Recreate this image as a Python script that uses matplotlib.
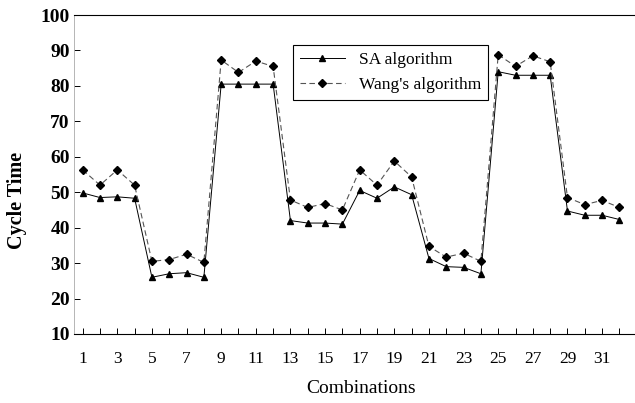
import matplotlib
matplotlib.use("Agg")
import matplotlib.pyplot as plt
import numpy as np

combinations = list(range(1, 33))
sa_values = [49.8, 48.5, 48.7, 48.3, 26.0, 27.0, 27.3, 26.0,
             80.5, 80.5, 80.5, 80.5, 42.0, 41.3, 41.3, 41.0,
             50.5, 48.3, 51.5, 49.3, 31.3, 29.0, 28.8, 27.0,
             84.0, 83.0, 83.0, 83.0, 44.7, 43.5, 43.5, 42.3]
wang_values = [56.3, 52.0, 56.3, 52.0, 30.5, 31.0, 32.5, 30.2,
               87.3, 83.8, 87.0, 85.5, 47.8, 45.7, 46.8, 45.0,
               56.3, 52.0, 58.8, 54.3, 34.7, 31.7, 32.8, 30.5,
               88.8, 85.5, 88.5, 86.8, 48.5, 46.5, 47.7, 45.7]
xtick_labels = [str(i) for i in range(1, 33, 2)]
yticks = list(range(10, 101, 10))

plt.rcParams['font.family'] = ['Liberation Serif', 'DejaVu Serif']

fig = plt.figure(figsize=(6.35, 4.03), dpi=100)
ax = fig.add_axes([74/635, 1-334/403, 1-74/635, (334-15)/403])

ax.plot(combinations, sa_values, color='black', lw=0.7, ls='-',
        marker='^', ms=5, mfc='black', mec='black', label='SA algorithm')
ax.plot(combinations, wang_values, color='#555555', lw=0.8, ls=(0, (5, 3)),
        marker='D', ms=4, mfc='black', mec='black', label="Wang's algorithm")

ax.set_xlim(0.5, 32.9)
ax.set_ylim(10, 100)
ax.set_yticks(yticks)
ax.set_yticklabels([str(v) for v in yticks], fontsize=14, fontweight='bold')
ax.set_xticks(list(range(1, 33, 2)))
ax.set_xticklabels(xtick_labels, fontsize=12.5)
ax.set_xticks(combinations, minor=True)
ax.tick_params(axis='x', which='both', direction='in', length=4, width=0.7, pad=12)
ax.tick_params(axis='y', direction='in', length=4, width=0.7, pad=3)

ax.spines['right'].set_visible(False)
ax.spines['left'].set_color('#aaaaaa')
ax.spines['left'].set_linewidth(0.6)
ax.spines['top'].set_linewidth(0.8)
ax.spines['bottom'].set_linewidth(0.8)

ax.set_ylabel('Cycle Time', fontsize=14.5, fontweight='bold')
ax.yaxis.set_label_coords(-0.084, 0.42)
ax.set_xlabel('Combinations', fontsize=14)
ax.xaxis.set_label_coords(0.512, -0.145)

leg = ax.legend(loc='upper left', bbox_to_anchor=(0.39, 0.906), fontsize=12.5,
                frameon=True, fancybox=False, edgecolor='black', framealpha=1,
                handlelength=2.6, borderpad=0.4, labelspacing=0.5, borderaxespad=0)
leg.get_frame().set_linewidth(0.8)

fig.savefig('out.png', dpi=100)
